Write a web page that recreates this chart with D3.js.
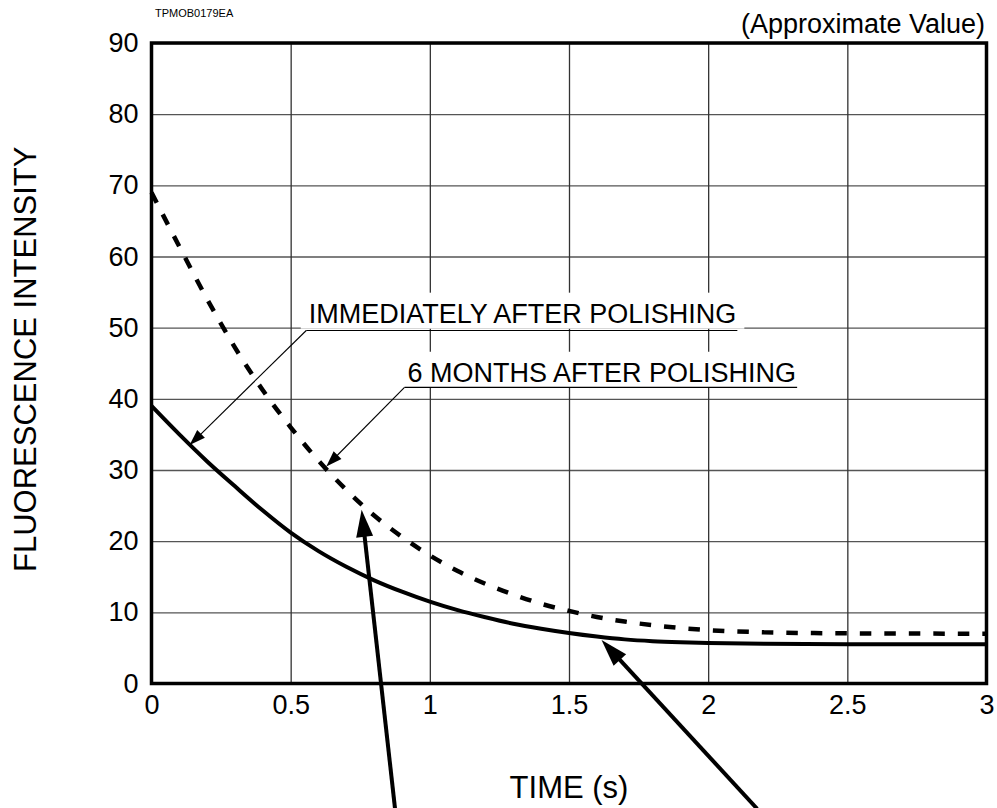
<!DOCTYPE html>
<html>
<head>
<meta charset="utf-8">
<script src="https://cdn.jsdelivr.net/npm/d3@7"></script>
<style>
    body { margin: 0; background: #fff; }
    svg { display: block; font-family: "Liberation Sans", Arial, Helvetica, sans-serif; }
</style>
</head>
<body>
<div id="chart"></div>
<script>
// Time axis (s) and the two fluorescence curves.
const times = [0, 0.1, 0.2, 0.3, 0.4, 0.5, 0.6, 0.7, 0.8, 0.9, 1.0, 1.1, 1.2, 1.3, 1.4, 1.5, 1.6, 1.7, 1.8, 1.9, 2.0, 2.2, 2.5, 3.0];
const afterPolishing = [39, 35.0, 31.2, 27.7, 24.3, 21.2, 18.6, 16.4, 14.5, 12.9, 11.5, 10.3, 9.3, 8.4, 7.7, 7.1, 6.6, 6.2, 5.95, 5.8, 5.7, 5.58, 5.52, 5.5];
const sixMonths = [69, 61.4, 54.0, 47.2, 41.2, 36.0, 31.3, 27.2, 23.6, 20.6, 18.0, 15.8, 14.0, 12.5, 11.2, 10.2, 9.35, 8.7, 8.2, 7.8, 7.5, 7.2, 7.05, 7.0];

const xTicks = [0, 0.5, 1, 1.5, 2, 2.5, 3];
const yTicks = [0, 10, 20, 30, 40, 50, 60, 70, 80, 90];

// Callout labels: text anchor, leader start and arrow tip, in data units.
const calloutText = ["IMMEDIATELY AFTER POLISHING", "6 MONTHS AFTER POLISHING"];
const calloutAt = [[0.565, 50.7], [0.92, 42.4]];
const calloutFrom = [[0.556, 49.6], [0.909, 41.6]];
const calloutTip = [[0.137, 33.5], [0.628, 30.5]];

// The two heavy arrows rising from below the chart.
const bigArrowFrom = [[0.875, -17.6], [2.176, -17.6]];
const bigArrowTip = [[0.755, 24.4], [1.617, 6.1]];

const margin = { top: 43, right: 10.5, bottom: 124.5, left: 151.5 };
const width = 997 - margin.left - margin.right;
const height = 808 - margin.top - margin.bottom;

const x = d3.scaleLinear().domain([0, 3]).range([0, width]);
const y = d3.scaleLinear().domain([0, 90]).range([height, 0]);

const root = d3.select("#chart").append("svg")
    .attr("width", 997)
    .attr("height", 808);

const svg = root.append("g")
    .attr("transform", "translate(" + margin.left + "," + margin.top + ")");

// Grid lines.
svg.append("g")
    .attr("class", "grid")
    .call(d3.axisLeft(y).tickValues(yTicks).tickSize(-width).tickFormat(""))
    .call(g => g.select(".domain").remove())
    .selectAll("line")
    .attr("stroke", "#555")
    .attr("stroke-width", 1.3);

svg.append("g")
    .attr("class", "grid")
    .attr("transform", "translate(0," + height + ")")
    .call(d3.axisBottom(x).tickValues(xTicks).tickSize(-height).tickFormat(""))
    .call(g => g.select(".domain").remove())
    .selectAll("line")
    .attr("stroke", "#333")
    .attr("stroke-width", 1.3);

// Axis tick labels.
svg.append("g")
    .call(d3.axisLeft(y).tickValues(yTicks).tickSize(0).tickPadding(13))
    .call(g => g.select(".domain").remove())
    .selectAll("text")
    .attr("fill", "#000")
    .style("font-size", "27px")
    .style("font-family", "'Liberation Sans', Arial, sans-serif");

svg.append("g")
    .attr("transform", "translate(0," + height + ")")
    .call(d3.axisBottom(x).tickValues(xTicks).tickSize(0).tickPadding(11).tickFormat(d3.format("")))
    .call(g => g.select(".domain").remove())
    .selectAll("text")
    .attr("fill", "#000")
    .style("font-size", "27px")
    .style("font-family", "'Liberation Sans', Arial, sans-serif");

// Callout labels, with a white backing that breaks the grid.
const callouts = [];
calloutText.forEach(function (label, i) {
    const g = svg.append("g");
    const rect = g.append("rect").attr("fill", "#fff");
    const text = g.append("text")
        .attr("x", x(calloutAt[i][0]))
        .attr("y", y(calloutAt[i][1]))
        .style("font-size", "27px")
        .text(label);
    const box = text.node().getBBox();
    rect.attr("x", box.x - 8)
        .attr("y", box.y - 6)
        .attr("width", box.width + 16)
        .attr("height", box.height + 6);
    callouts.push({ g: g, box: box });
});

// Heavy curves.
const line = function (values) {
    return d3.line()
        .x(function (d, i) { return x(times[i]); })
        .y(function (d) { return y(d); })
        .curve(d3.curveMonotoneX)(values);
};

svg.append("path")
    .attr("d", line(afterPolishing))
    .attr("fill", "none")
    .attr("stroke", "#000")
    .attr("stroke-width", 4);

svg.append("path")
    .attr("d", line(sixMonths))
    .attr("fill", "none")
    .attr("stroke", "#000")
    .attr("stroke-width", 4.5)
    .attr("stroke-dasharray", "11.5,13");

// Draws a straight arrow with a filled triangular head.
const arrow = function (from, tip, headLen, headWidth, strokeWidth) {
    const x1 = x(from[0]), y1 = y(from[1]);
    const x2 = x(tip[0]), y2 = y(tip[1]);
    const len = Math.hypot(x2 - x1, y2 - y1);
    const ux = (x2 - x1) / len, uy = (y2 - y1) / len;
    const bx = x2 - ux * headLen, by = y2 - uy * headLen;
    svg.append("line")
        .attr("x1", x1).attr("y1", y1)
        .attr("x2", bx + ux * 2).attr("y2", by + uy * 2)
        .attr("stroke", "#000")
        .attr("stroke-width", strokeWidth);
    svg.append("path")
        .attr("d", "M" + x2 + "," + y2 +
            "L" + (bx - uy * headWidth / 2) + "," + (by + ux * headWidth / 2) +
            "L" + (bx + uy * headWidth / 2) + "," + (by - ux * headWidth / 2) + "Z")
        .attr("fill", "#000");
};

// Underlines and leader arrows for the callouts.
callouts.forEach(function (c, i) {
    svg.append("line")
        .attr("x1", x(calloutFrom[i][0]))
        .attr("x2", c.box.x + c.box.width + 1)
        .attr("y1", y(calloutFrom[i][1]))
        .attr("y2", y(calloutFrom[i][1]))
        .attr("stroke", "#000")
        .attr("stroke-width", 1.2);
    arrow(calloutFrom[i], calloutTip[i], 16, 11, 1.1);
});

// Frame.
svg.append("rect")
    .attr("width", width)
    .attr("height", height)
    .attr("fill", "none")
    .attr("stroke", "#000")
    .attr("stroke-width", 3.5);

// Heavy arrows from below.
bigArrowFrom.forEach(function (from, i) {
    arrow(from, bigArrowTip[i], 27, 17, 4);
});

// Titles.
root.append("text")
    .attr("x", 155)
    .attr("y", 17)
    .style("font-size", "11px")
    .text("TPMOB0179EA");

root.append("text")
    .attr("x", 985)
    .attr("y", 33)
    .attr("text-anchor", "end")
    .style("font-size", "27px")
    .text("(Approximate Value)");

root.append("text")
    .attr("x", margin.left + width / 2)
    .attr("y", 798)
    .attr("text-anchor", "middle")
    .style("font-size", "31px")
    .text("TIME (s)");

root.append("text")
    .attr("transform", "translate(36," + (margin.top + height / 2 - 4) + ") rotate(-90)")
    .attr("text-anchor", "middle")
    .style("font-size", "31px")
    .text("FLUORESCENCE INTENSITY");
</script>
</body>
</html>
